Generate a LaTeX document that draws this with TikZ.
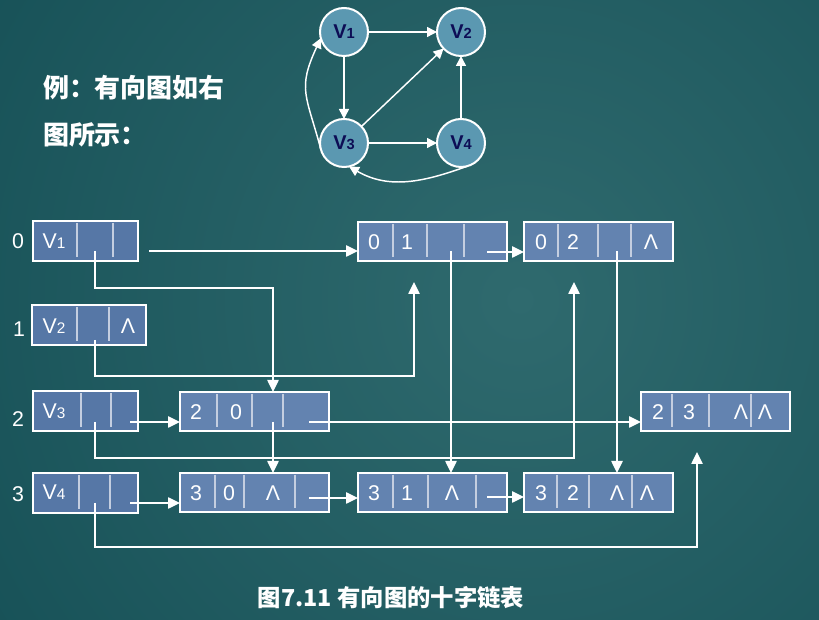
\documentclass[tikz,border=0pt]{standalone}
\usepackage{fontspec}
\setmainfont{Liberation Sans}
\newfontfamily\cjk{Noto Sans CJK SC}
\usetikzlibrary{arrows.meta}
\definecolor{bgdark}{HTML}{0D474E}
\definecolor{bglight}{HTML}{2F6A6E}
\definecolor{vfill}{HTML}{5677A6}
\definecolor{afill}{HTML}{6383B0}
\definecolor{gfill}{HTML}{5B98B1}
\definecolor{gtext}{HTML}{0D0D55}
\definecolor{divcol}{HTML}{C4CEE0}
\newcommand\bigtxt{\fontsize{16}{16}\selectfont}
\newcommand\subtxt{\fontsize{11.5}{11.5}\selectfont}
\newcommand\cells[3]{\foreach \xx in {#3} \draw[div] (\xx,{-(#1)-2}) -- (\xx,{-(#2)+4});}
\begin{document}
\begin{tikzpicture}[x=0.75pt,y=0.75pt,
  every node/.style={inner sep=0pt,outer sep=0pt},
  vbox/.style={draw=white,line width=1.5pt,fill=vfill,anchor=north west,minimum height=30pt},
  abox/.style={draw=white,line width=1.5pt,fill=afill,anchor=north west,minimum height=29.25pt,minimum width=111.75pt},
  div/.style={draw=divcol,line width=0.8pt},
  txt/.style={text=white,anchor=base,font=\bigtxt},
  gnode/.style={circle,draw=white,line width=1.5pt,fill=gfill,minimum size=36pt,text=gtext,font=\fontsize{15}{15}\selectfont\bfseries},
  garr/.style={draw=white,line width=1.1pt,-{Triangle[length=7.5pt,width=7.5pt]}},
  arr/.style={draw=white,line width=1.1pt,-{Triangle[length=9pt,width=8.5pt]}}]
\useasboundingbox (0,0) rectangle (819,-620);
% background
\fill[bgdark] (0,0) rectangle (819,-620);
\begin{scope}
  \clip (0,0) rectangle (819,-620);
  \shade[inner color=bglight,outer color=bgdark] (520,-300) circle (900);
\end{scope}

% example graph
\node[gnode] (G1) at (344,-32) {V{\fontsize{11}{11}\selectfont 1}};
\node[gnode] (G2) at (461,-32) {V{\fontsize{11}{11}\selectfont 2}};
\node[gnode] (G3) at (344,-143) {V{\fontsize{11}{11}\selectfont 3}};
\node[gnode] (G4) at (461,-143) {V{\fontsize{11}{11}\selectfont 4}};
\draw[garr] (G1) -- (G2);
\draw[garr] (G1) -- (G3);
\draw[garr] (G3) -- (G2);
\draw[garr] (G3) -- (G4);
\draw[garr] (G4) -- (G2);
\draw[garr] (G3.195) to[out=105,in=245,looseness=1.3] (G1.195);
\draw[garr] (G4.287) to[out=200,in=330] (G3.282);

% heading
\node[anchor=west,text=white,font=\cjk\bfseries\fontsize{19.5}{19.5}\selectfont] (h1) at (43,-88) {例：有向图如右};
\node[anchor=west,text=white,font=\cjk\bfseries\fontsize{19.5}{19.5}\selectfont] (h2) at (43,-135) {图所示：};

% row indices
\node[txt] (r0) at (18,-249) {0};
\node[txt] (r1) at (19,-337) {1};
\node[txt] (r2) at (18,-427) {2};
\node[txt] (r3) at (18,-502) {3};

% vertex table
\node[vbox,minimum width=78.75pt] (V1) at (33,-221) {};
\node[vbox,minimum width=85.5pt] (V2) at (32,-305) {};
\node[vbox,minimum width=78.75pt] (V3) at (33,-391) {};
\node[vbox,minimum width=78.75pt] (V4) at (33,-473) {};
\cells{221}{261}{77,113}
\cells{305}{345}{77,109}
\cells{391}{431}{81,111}
\cells{473}{513}{79,110}
\node[txt] (v1t) at (54,-249) {V{\subtxt 1}};
\node[txt] (v2t) at (54,-334) {V{\subtxt 2}};
\node[txt] (v2n) at (128,-334) {Λ};
\node[txt] (v3t) at (54,-419) {V{\subtxt 3}};
\node[txt] (v4t) at (54,-500) {V{\subtxt 4}};

% arc nodes
\node[abox] (A01) at (358,-222) {};
\node[abox] (A02) at (524,-222) {};
\node[abox] (A20) at (180,-392) {};
\node[abox] (A23) at (641,-392) {};
\node[abox] (A30) at (180,-473) {};
\node[abox] (A31) at (358,-473) {};
\node[abox] (A32) at (524,-473) {};
\cells{222}{261}{393,427,464}
\cells{222}{261}{558,598,631}
\cells{392}{431}{217,252,283}
\cells{392}{431}{672,709,751}
\cells{473}{512}{215,244,295}
\cells{473}{512}{393,428,476}
\cells{473}{512}{557,589,632}

\node[txt] (a01a) at (374,-250) {0};
\node[txt] (a01b) at (407,-250) {1};
\node[txt] (a02a) at (541,-250) {0};
\node[txt] (a02b) at (573,-250) {2};
\node[txt] (a02c) at (651,-250) {Λ};
\node[txt] (a20a) at (196,-420) {2};
\node[txt] (a20b) at (236,-420) {0};
\node[txt] (a23a) at (658,-420) {2};
\node[txt] (a23b) at (689,-420) {3};
\node[txt] (a23c) at (741,-420) {Λ};
\node[txt] (a23d) at (765,-420) {Λ};
\node[txt] (a30a) at (196,-501) {3};
\node[txt] (a30b) at (229,-501) {0};
\node[txt] (a30c) at (273,-501) {Λ};
\node[txt] (a31a) at (374,-501) {3};
\node[txt] (a31b) at (407,-501) {1};
\node[txt] (a31c) at (452,-501) {Λ};
\node[txt] (a32a) at (541,-501) {3};
\node[txt] (a32b) at (573,-501) {2};
\node[txt] (a32c) at (617,-501) {Λ};
\node[txt] (a32d) at (647,-501) {Λ};

% pointer origins inside the cells
\coordinate (V1out) at (149,-251);
\coordinate (V1in) at (95,-251);
\coordinate (V2in) at (95,-340);
\coordinate (V3out) at (130,-422);
\coordinate (V3in) at (95,-422);
\coordinate (V4out) at (130,-503);
\coordinate (V4in) at (95,-503);
\coordinate (A01t) at (451,-251);
\coordinate (A01h) at (487,-252);
\coordinate (A02t) at (617,-251);
\coordinate (A20t) at (273,-422);
\coordinate (A20h) at (309,-422);
\coordinate (A30h) at (309,-498);
\coordinate (A31h) at (487,-497);
% free ends below the nodes
\coordinate (A01up) at (414,-282);
\coordinate (A02up) at (574,-282);
\coordinate (A23up) at (697,-452);
\coordinate (A20top) at (273,-392);

% out-lists
\draw[arr] (V1out) -- (V1out -| A01.west);
\draw[arr] (A01h) -- (A01h -| A02.west);
\draw[arr] (V3out) -- (V3out -| A20.west);
\draw[arr] (A20h) -- (A20h -| A23.west);
\draw[arr] (V4out) -- (V4out -| A30.west);
\draw[arr] (A30h) -- (A30h -| A31.west);
\draw[arr] (A31h) -- (A31h -| A32.west);
% in-lists
\draw[arr] (V1in) -- ++(0,-37) -| (A20top);
\draw[arr] (V2in) -- ++(0,-36) -| (A01up);
\draw[arr] (V3in) -- ++(0,-36) -| (A02up);
\draw[arr] (V4in) -- ++(0,-44) -| (A23up);
\draw[arr] (A01t) -- (A01t |- A31.north);
\draw[arr] (A02t) -- (A02t |- A32.north);
\draw[arr] (A20t) -- (A20t |- A30.north);

% caption
\node[text=white,font=\cjk\bfseries\fontsize{17.5}{17.5}\selectfont] (cap) at (391,-598) {图7.11 有向图的十字链表};
\end{tikzpicture}
\end{document}
